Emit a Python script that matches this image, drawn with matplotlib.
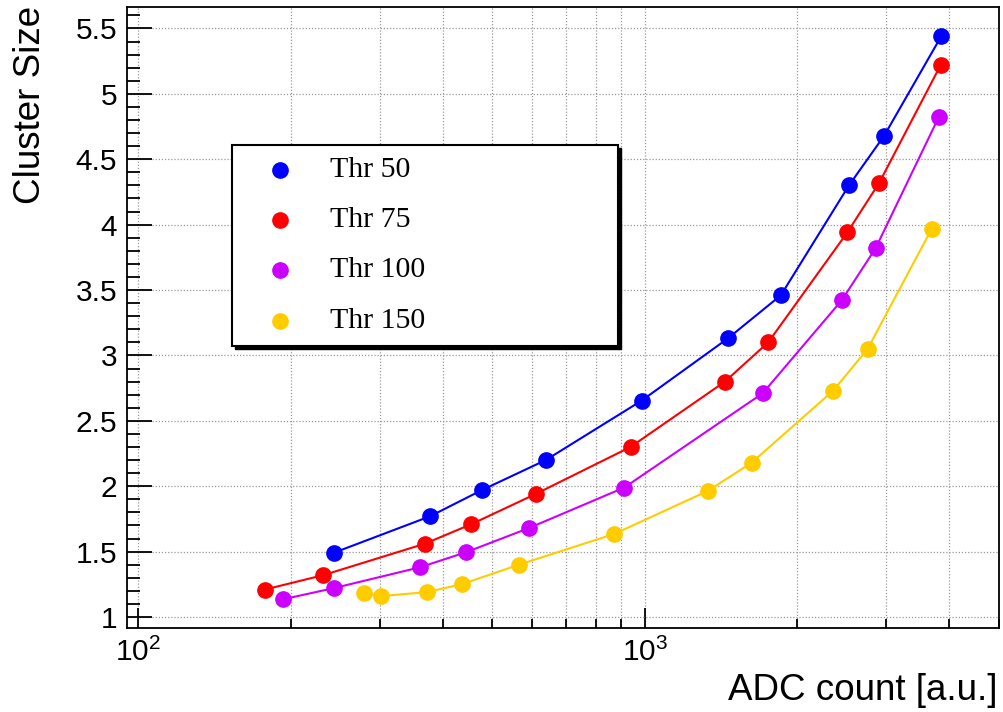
import matplotlib
matplotlib.use('Agg')
import matplotlib.pyplot as plt
from matplotlib.patches import Rectangle
from matplotlib.ticker import LogLocator, MultipleLocator, FormatStrFormatter, NullFormatter

# ADC count vs cluster size, one series per threshold
thr50_x = [243, 377, 477, 638, 987, 1460, 1858, 2532, 2972, 3852]
thr50_y = [1.49, 1.77, 1.97, 2.20, 2.655, 3.13, 3.46, 4.30, 4.68, 5.44]

thr75_x = [178, 232, 368, 455, 609, 938, 1441, 1754, 2513, 2906, 3842]
thr75_y = [1.21, 1.32, 1.56, 1.71, 1.94, 2.30, 2.80, 3.10, 3.94, 4.32, 5.22]

thr100_x = [193, 243, 360, 444, 591, 912, 1710, 2449, 2859, 3807]
thr100_y = [1.135, 1.22, 1.38, 1.495, 1.68, 1.99, 2.71, 3.42, 3.82, 4.82]

thr150_x = [279, 302, 371, 435, 565, 871, 1335, 1627, 2357, 2757, 3692]
thr150_y = [1.18, 1.16, 1.19, 1.25, 1.40, 1.635, 1.965, 2.18, 2.73, 3.05, 3.97]

labels = ['Thr 50', 'Thr 75', 'Thr 100', 'Thr 150']
colors = ['#0000ff', '#ff0000', '#cc00ff', '#ffcc00']

W, H = 1004, 712
plt.rcParams['font.family'] = ['Liberation Sans', 'DejaVu Sans']
plt.rcParams['mathtext.fontset'] = 'custom'
plt.rcParams['mathtext.rm'] = 'Liberation Sans'

fig = plt.figure(figsize=(W / 100, H / 100), dpi=100)
ax = fig.add_axes([127 / W, 1 - 627.7 / H, 872 / W, 620.4 / H])

series = [(thr50_x, thr50_y), (thr75_x, thr75_y), (thr100_x, thr100_y), (thr150_x, thr150_y)]
for (xs, ys), c in zip(series, colors):
    ax.plot(xs, ys, '-', color=c, lw=1.5, marker='o', ms=11, mec=c, zorder=3)

ax.set_xscale('log')
ax.set_xlim(95, 5010)
ax.set_ylim(0.918, 5.662)

ax.xaxis.set_major_locator(LogLocator(base=10, numticks=10))
ax.xaxis.set_minor_locator(LogLocator(base=10, subs=range(2, 10), numticks=20))
ax.xaxis.set_minor_formatter(NullFormatter())
ax.yaxis.set_major_locator(MultipleLocator(0.5))
ax.yaxis.set_minor_locator(MultipleLocator(0.1))
ax.yaxis.set_major_formatter(FormatStrFormatter('%g'))

ax.tick_params(axis='both', which='both', direction='in', top=False, right=False,
               labelsize=21.5, width=1.3)
ax.tick_params(axis='y', which='major', length=18, pad=7)
ax.tick_params(axis='y', which='minor', length=9)
ax.tick_params(axis='x', which='major', length=14.5, pad=7)
ax.tick_params(axis='x', which='minor', length=6.7)

for s in ax.spines.values():
    s.set_linewidth(1.3)

grid_style = dict(color='#999999', linestyle=(0, (1, 1.5)), linewidth=0.9)
ax.grid(True, which='both', axis='x', **grid_style)
ax.grid(True, which='major', axis='y', **grid_style)
ax.set_axisbelow(True)

fig.text(31 / W, 1 - 6 / H, 'Cluster Size', rotation=90, ha='center', va='top', fontsize=26.5)
fig.text(998 / W, 1 - 690 / H, 'ADC count [a.u.]', ha='right', va='center', fontsize=26.5)

# legend box with ROOT style shadow
x0, y0, x1, y1 = 232.3, 145, 618.3, 346
shadow = Rectangle((x0 / W + 2.5 / W, 1 - y1 / H - 2.5 / H), (x1 - x0) / W, (y1 - y0) / H,
                   transform=fig.transFigure, facecolor='black', edgecolor='black', zorder=5)
box = Rectangle((x0 / W, 1 - y1 / H), (x1 - x0) / W, (y1 - y0) / H,
                transform=fig.transFigure, facecolor='white', edgecolor='black', lw=1.5, zorder=6)
fig.add_artist(shadow)
fig.add_artist(box)
row_y = [170, 220, 270, 321]
for lab, c, ry in zip(labels, colors, row_y):
    fig.add_artist(plt.Line2D([280 / W], [1 - ry / H], marker='o', ms=11, color=c,
                              mec=c, transform=fig.transFigure, zorder=7))
    fig.text(330 / W, 1 - ry / H, lab, ha='left', va='center', fontsize=21.5,
             family=['Liberation Serif', 'DejaVu Serif'], zorder=7)

fig.savefig('out.png', dpi=100)
